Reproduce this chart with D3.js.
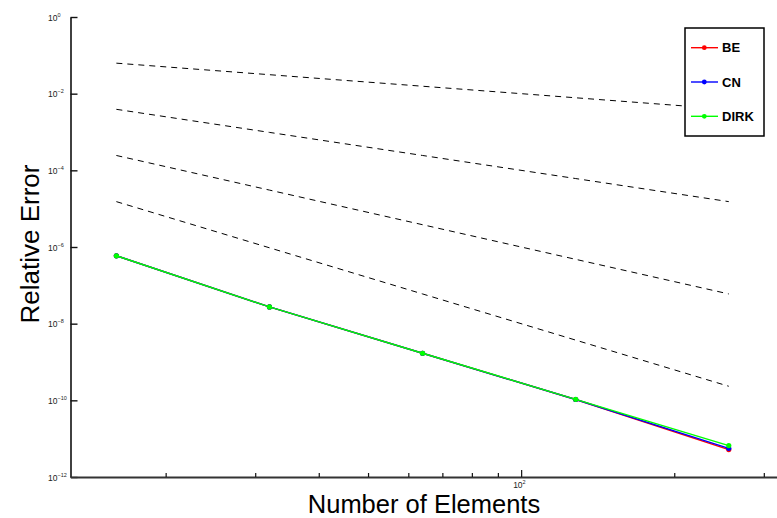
<!DOCTYPE html>
<html>
<head>
<meta charset="utf-8">
<script src="https://cdn.jsdelivr.net/npm/d3@7"></script>
<style>
  html, body { margin: 0; padding: 0; background: #fff; }
  svg { display: block; font-family: "Liberation Sans", Arial, Helvetica, sans-serif; }
</style>
</head>
<body>
<svg id="chart" width="777" height="518"></svg>
<script>
// ---- data ----
const elements = [16, 32, 64, 128, 256];
const beError   = [5.9e-7, 2.74e-8, 1.69e-9, 1.05e-10, 5.2e-12];
const cnError   = [5.9e-7, 2.74e-8, 1.69e-9, 1.05e-10, 5.6e-12];
const dirkError = [5.9e-7, 2.74e-8, 1.69e-9, 1.06e-10, 6.6e-12];
// reference slopes (order 1..4)
const refOrder1 = [6.25e-2, 3.125e-2, 1.5625e-2, 7.8125e-3, 3.90625e-3];
const refOrder2 = [3.90625e-3, 9.765625e-4, 2.44140625e-4, 6.1035e-5, 1.5259e-5];
const refOrder3 = [2.44140625e-4, 3.0518e-5, 3.8147e-6, 4.7684e-7, 5.9605e-8];
const refOrder4 = [1.5259e-5, 9.5367e-7, 5.9605e-8, 3.7253e-9, 2.3283e-10];
const seriesNames = ["BE", "CN", "DIRK"];
const seriesColors = ["#ff0000", "#0000ff", "#00ff00"];
const yTickExponents = [0, -2, -4, -6, -8, -10, -12];
const xMajorTicks = [100];
const xMajorLabels = ["2"];
const xMinorTicks = [20, 30, 40, 50, 60, 70, 80, 90, 200, 300];
const xLabel = "Number of Elements";
const yLabel = "Relative Error";

// ---- layout ----
const svg = d3.select("#chart");
const plotLeft = 70.5, plotBottom = 477, plotTop = 17;
const pxPerDecade = 508.6;
const xDomain = [13, 400];
const x = d3.scaleLog().domain(xDomain)
  .range([plotLeft, plotLeft + Math.log10(xDomain[1] / xDomain[0]) * pxPerDecade]);
const y = d3.scaleLog().domain([1e-12, 1]).range([plotBottom, plotTop]);

// axes
const yAxis = d3.axisLeft(y)
  .tickValues(yTickExponents.map(e => Math.pow(10, e)))
  .tickSize(-7).tickSizeOuter(0).tickFormat("");
const gy = svg.append("g").attr("transform", `translate(${plotLeft},0)`).call(yAxis);
gy.select(".domain").attr("stroke", "#111").attr("stroke-width", 1.6);
gy.selectAll(".tick line").attr("stroke", "#111").attr("stroke-width", 1.4);

const xAxisMajor = d3.axisBottom(x).tickValues(xMajorTicks)
  .tickSize(-7).tickSizeOuter(0).tickFormat("");
const gx = svg.append("g").attr("transform", `translate(0,${plotBottom})`).call(xAxisMajor);
gx.select(".domain").attr("stroke", "#333").attr("stroke-width", 1.8);
gx.selectAll(".tick line").attr("stroke", "#111").attr("stroke-width", 1.2);

const xAxisMinor = d3.axisBottom(x).tickValues(xMinorTicks)
  .tickSize(-4).tickSizeOuter(0).tickFormat("");
const gx2 = svg.append("g").attr("transform", `translate(0,${plotBottom})`).call(xAxisMinor);
gx2.select(".domain").remove();
gx2.selectAll(".tick line").attr("stroke", "#111").attr("stroke-width", 1.2);

// tick labels with superscripts
yTickExponents.forEach(e => {
  const t = svg.append("text")
    .attr("x", 48).attr("y", y(Math.pow(10, e)) + 3.5)
    .attr("font-size", 8.5).attr("fill", "#222");
  t.append("tspan").text("10");
  t.append("tspan").attr("dy", -4).attr("font-size", 5.5)
    .text(e === 0 ? "0" : "\u2212" + Math.abs(e));
});
xMajorTicks.forEach((v, i) => {
  const t = svg.append("text")
    .attr("x", x(v) - 8).attr("y", 487.5)
    .attr("font-size", 8.5).attr("fill", "#222");
  t.append("tspan").text("10");
  t.append("tspan").attr("dy", -4).attr("font-size", 5.5).text(xMajorLabels[i]);
});

// axis titles
svg.append("text").attr("x", 424).attr("y", 512.5)
  .attr("text-anchor", "middle").attr("font-size", 25.5).attr("fill", "#000")
  .text(xLabel);
svg.append("text")
  .attr("transform", `translate(38.5,244) rotate(-90)`)
  .attr("text-anchor", "middle").attr("font-size", 26).attr("fill", "#000")
  .text(yLabel);

const line = d3.line().x(d => x(d[0])).y(d => y(d[1]));

// reference dashed lines
[refOrder1, refOrder2, refOrder3, refOrder4].forEach(ref => {
  svg.append("path")
    .attr("d", line(elements.map((n, i) => [n, ref[i]])))
    .attr("fill", "none").attr("stroke", "#000")
    .attr("stroke-width", 1).attr("stroke-dasharray", "6,5");
});

// data series
const seriesData = [beError, cnError, dirkError];
seriesData.forEach((vals, si) => {
  const pts = elements.map((n, i) => [n, vals[i]]);
  svg.append("path").attr("d", line(pts))
    .attr("fill", "none").attr("stroke", seriesColors[si]).attr("stroke-width", 1.4);
  svg.selectAll(null).data(pts).enter().append("circle")
    .attr("cx", d => x(d[0])).attr("cy", d => y(d[1])).attr("r", 2.6)
    .attr("fill", seriesColors[si]);
});

// legend
const lg = svg.append("g");
lg.append("rect").attr("x", 685).attr("y", 28).attr("width", 79).attr("height", 108)
  .attr("fill", "#fff").attr("stroke", "#000").attr("stroke-width", 1.5);
seriesNames.forEach((name, i) => {
  const ly = 47.7 + i * 34.3;
  lg.append("line").attr("x1", 691).attr("x2", 718).attr("y1", ly).attr("y2", ly)
    .attr("stroke", seriesColors[i]).attr("stroke-width", 1.4);
  lg.append("circle").attr("cx", 704.3).attr("cy", ly).attr("r", 2.4).attr("fill", seriesColors[i]);
  lg.append("text").attr("x", 722).attr("y", ly + 4.6)
    .attr("font-size", 13).attr("font-weight", "bold").attr("fill", "#000").text(name);
});
</script>
</body>
</html>
